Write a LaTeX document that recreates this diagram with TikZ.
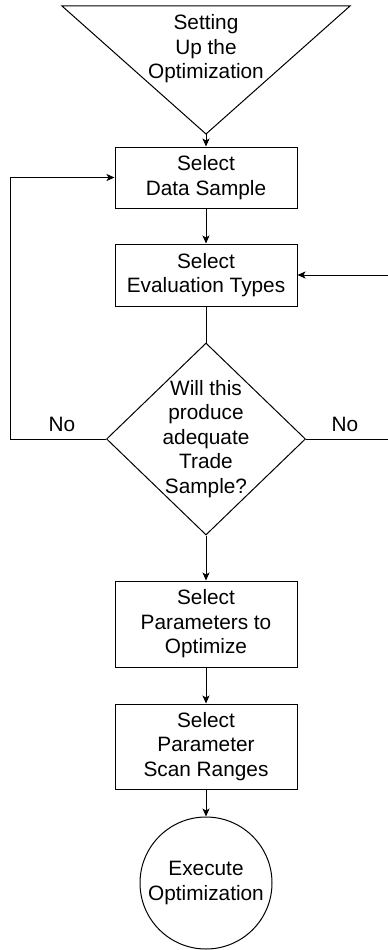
\documentclass[tikz,border=0pt]{standalone}
\usepackage{fontspec}
\setmainfont{Liberation Sans}
\usetikzlibrary{arrows.meta,shapes.geometric}
\tikzset{
  txt/.style={align=center,font=\fontsize{20.8pt}{24.4pt}\selectfont,inner sep=0pt},
  box/.style={txt,draw,line width=1pt,minimum width=182pt},
  conn/.style={line width=1pt,-{Stealth[length=8pt,width=7pt,inset=2pt]}},
  plain/.style={line width=1pt},
}
\begin{document}
\begin{tikzpicture}[x=1pt,y=-1pt]
\useasboundingbox (0,0) rectangle (388,950);
% start triangle
\coordinate (tl) at (62,6);
\coordinate (tr) at (350,6);
\coordinate (apex) at (206,134);
\draw[plain,line join=miter] (tl) -- (tr) -- (apex) -- cycle;
\node[txt] (start) at (206,49) {Setting\\Up the\\Optimization};
% boxes
\node[box,minimum height=61pt] (b1) at (206,177.5) {Select\\Data Sample};
\node[box,minimum height=62pt] (b2) at (206,275) {Select\\Evaluation Types};
\node[draw,line width=1pt,diamond,minimum width=199pt,minimum height=192pt,inner sep=0pt] (dec) at (206,439) {};
\node[txt] (dectext) at (dec.center) {Will this\\produce\\adequate\\Trade\\Sample?};
\node[box,minimum height=86pt] (b3) at (206,624) {Select\\Parameters to\\Optimize};
\node[box,minimum height=85pt] (b4) at (206,746.5) {Select\\Parameter\\Scan Ranges};
\node[txt,draw,line width=1pt,circle,minimum size=132pt] (end) at (206,883) {Execute\\Optimization};
% loop corners
\coordinate (ll) at (10,439);
\coordinate (lu) at (10,177.5);
\coordinate (rl) at (390,439);
\coordinate (ru) at (390,275);
% connectors
\draw[conn] (apex) -- (b1.north);
\draw[conn] (b1.south) -- (b2.north);
\draw[plain] (b2.south) -- (dec.north);
\draw[conn] (dec.south) -- (b3.north);
\draw[conn] (b3.south) -- (b4.north);
\draw[conn] (b4.south) -- (end.north);
\draw[conn] (dec.west) -- (ll) -- (lu) -- (b1.west);
\draw[conn] (dec.east) -- (rl) -- (ru) -- (b2.east);
\node[txt] (nol) at (62,424) {No};
\node[txt] (nor) at (345,424) {No};
\end{tikzpicture}
\end{document}
